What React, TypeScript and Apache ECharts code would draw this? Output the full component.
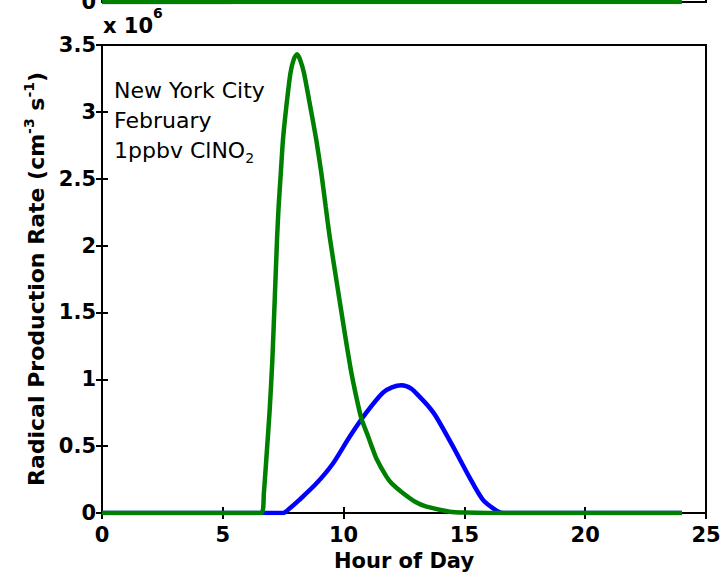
import React, { useEffect, useRef } from "react";
import * as echarts from "echarts";

// Hour of day (x) and radical production rate in units of 1e6 cm^-3 s^-1 (y)
const greenHours = [0, 6.6, 6.7, 6.8, 6.94, 7.05, 7.15, 7.25, 7.31, 7.4, 7.49, 7.63, 7.8, 7.95, 8.07, 8.2, 8.36, 8.62, 8.87, 9.08, 9.26, 9.42, 9.72, 10.0, 10.28, 10.5, 10.73, 11.0, 11.16, 11.35, 11.78, 12.0, 12.45, 13.0, 13.4, 14.4, 15.0, 16.0, 24.0];
const greenValues = [0, 0, 0.15, 0.4, 0.77, 1.14, 1.6, 2.07, 2.29, 2.54, 2.79, 3.04, 3.29, 3.4, 3.43, 3.39, 3.29, 3.04, 2.79, 2.54, 2.29, 2.07, 1.72, 1.4, 1.09, 0.89, 0.71, 0.58, 0.5, 0.41, 0.27, 0.22, 0.15, 0.08, 0.05, 0.01, 0.003, 0, 0];

const blueHours = [0, 7.49, 7.8, 8.18, 8.87, 9.56, 10.25, 10.94, 11.63, 12.0, 12.4, 12.8, 13.14, 13.5, 13.83, 14.52, 15.2, 15.76, 16.31, 16.6, 24];
const blueValues = [0, 0, 0.04, 0.1, 0.22, 0.37, 0.57, 0.75, 0.9, 0.94, 0.955, 0.93, 0.87, 0.8, 0.72, 0.5, 0.27, 0.1, 0.02, 0, 0];

// remnant of the panel above (only its zero line is visible)
const topGreenHours = [0, 24];
const topGreenValues = [0, 0];
const topBlueHours = [0, 5.3, 5.7, 6.0];
const topBlueValues = [0, 0, 0.008, 0.03];

const xTickInterval = 5;
const yTickInterval = 0.5;

const pairs = (xs: number[], ys: number[]) => xs.map((x, i) => [x, ys[i]]);

export default function App() {
  const ref = useRef<HTMLDivElement>(null);
  useEffect(() => {
    const chart = echarts.init(ref.current!, null, { renderer: "svg" });
    const font = "DejaVu Sans";
    const axisLine = { show: true, lineStyle: { color: "#000", width: 2 } };
    const axisTick = { show: true, inside: true, length: 6, lineStyle: { color: "#000", width: 2 } };
    const labelStyle = { color: "#000", fontSize: 21, fontWeight: "bold" as const, fontFamily: font };
    chart.setOption({
      animation: false,
      textStyle: { fontFamily: font },
      grid: [
        { left: 102, right: 19, top: 45, bottom: 61, show: true, borderColor: "#000", borderWidth: 2, outerBoundsMode: "none", containLabel: false },
        { left: 102, right: 19, top: -298, height: 300, show: true, borderColor: "#000", borderWidth: 2, outerBoundsMode: "none", containLabel: false },
      ],
      xAxis: [
        {
          gridIndex: 0, type: "value", min: 0, max: 25, interval: xTickInterval, position: "bottom",
          axisLine, axisTick, splitLine: { show: false },
          axisLabel: { ...labelStyle, margin: 11 },
          name: "Hour of Day", nameLocation: "middle", nameGap: 37,
          nameTextStyle: { ...labelStyle },
        },
        {
          gridIndex: 0, type: "value", min: 0, max: 25, interval: xTickInterval, position: "top",
          axisLine, axisTick, splitLine: { show: false }, axisLabel: { show: false },
        },
        {
          gridIndex: 1, type: "value", min: 0, max: 25, interval: xTickInterval, position: "bottom",
          axisLine, axisTick, splitLine: { show: false }, axisLabel: { show: false },
        },
      ],
      yAxis: [
        {
          gridIndex: 0, type: "value", min: 0, max: 3.5, interval: yTickInterval, position: "left",
          axisLine, axisTick, splitLine: { show: false },
          axisLabel: { ...labelStyle, margin: 6 },
          name: "{b|Radical Production Rate (cm}{s|-3}{b| s}{s|-1}{b|)}",
          nameLocation: "middle", nameGap: 52, nameRotate: 90,
          nameTextStyle: {
            padding: [0, 0, 0, 0],
            rich: {
              b: { ...labelStyle, fontSize: 22, lineHeight: 28 },
              s: { color: "#000", fontSize: 14, fontWeight: "bold", fontFamily: font, lineHeight: 28, verticalAlign: "top" },
            },
          },
        },
        {
          gridIndex: 0, type: "value", min: 0, max: 3.5, interval: yTickInterval, position: "right",
          axisLine, axisTick, splitLine: { show: false }, axisLabel: { show: false },
        },
        {
          gridIndex: 1, type: "value", min: 0, max: 1, interval: yTickInterval, position: "left",
          axisLine, axisTick, splitLine: { show: false },
          axisLabel: { ...labelStyle, margin: 6 },
        },
      ],
      series: [
        {
          type: "line", xAxisIndex: 0, yAxisIndex: 0, data: pairs(blueHours, blueValues),
          showSymbol: false, smooth: 0.25, lineStyle: { color: "#0000FF", width: 4.5 }, z: 3,
        },
        {
          type: "line", xAxisIndex: 0, yAxisIndex: 0, data: pairs(greenHours, greenValues),
          showSymbol: false, smooth: 0.2, lineStyle: { color: "#008000", width: 4.5 }, z: 4,
        },
        {
          type: "line", xAxisIndex: 2, yAxisIndex: 2, data: pairs(topBlueHours, topBlueValues),
          showSymbol: false, lineStyle: { color: "#0000FF", width: 4.5 }, z: 3,
        },
        {
          type: "line", xAxisIndex: 2, yAxisIndex: 2, data: pairs(topGreenHours, topGreenValues),
          showSymbol: false, lineStyle: { color: "#008000", width: 4.5 }, z: 4,
        },
      ],
      graphic: [
        {
          type: "text", left: 103, top: 6,
          style: {
            text: "{b|x 10}{s|6}",
            rich: {
              b: { ...labelStyle, lineHeight: 30, verticalAlign: "bottom" },
              s: { color: "#000", fontSize: 14, fontWeight: "bold", fontFamily: font, lineHeight: 30, verticalAlign: "top" },
            },
          },
        },
        {
          type: "text", left: 114, top: 75,
          style: {
            text: "New York City\nFebruary\n{n|1ppbv ClNO}{sub|2}",
            font: `22px ${font}`, fill: "#000", lineHeight: 30,
            rich: {
              n: { fontSize: 22, fontFamily: font, lineHeight: 30, fill: "#000" },
              sub: { fontSize: 14, fontFamily: font, lineHeight: 30, verticalAlign: "bottom", fill: "#000" },
            },
          },
        },
      ],
    });
    return () => chart.dispose();
  }, []);
  return <div ref={ref} style={{ position: "absolute", left: 0, top: 0, width: 725, height: 574 }} />;
}
